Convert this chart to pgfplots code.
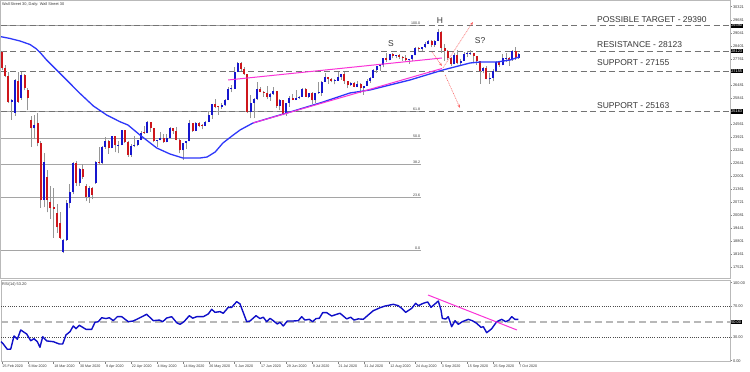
\documentclass[border=0pt]{standalone}
\usepackage{fontspec}
\setmainfont{Liberation Sans}
\usepackage{pgfplots}
\usepackage{pgfplotstable}
\pgfplotsset{compat=1.18}
\usetikzlibrary{arrows.meta}

\definecolor{upc}{RGB}{22,22,205}
\definecolor{dnc}{RGB}{205,22,28}
\definecolor{wickc}{RGB}{150,150,150}
\definecolor{mac}{RGB}{45,55,250}
\definecolor{rsic}{RGB}{15,15,200}
\definecolor{pinkc}{RGB}{250,50,215}
\definecolor{arrc}{RGB}{250,95,95}
\definecolor{framec}{RGB}{185,185,185}
\definecolor{dashc}{RGB}{115,115,115}
\definecolor{fibc}{RGB}{165,165,165}
\definecolor{txtc}{RGB}{55,55,55}

\newcommand\tf{\fontsize{3.9}{4.2}\selectfont}
\newcommand\ff{\fontsize{3.6}{4}\selectfont}
\newcommand\bigf{\fontsize{8.5}{10}\selectfont}

\pgfplotsset{candle/.style={forget plot, only marks, mark=*, mark size=0pt,
  mark options={draw=none, fill=none},
  error bars/.cd, y dir=plus, y explicit, error mark=none}}

\pgfplotstableread{
i O H L C
0 28080 28150 27200 27300
1 27300 27460 26860 26900
2 26900 27100 25600 25650
3 25630 25800 24750 25730
4 25100 26750 24950 26700
5 26650 27100 25600 25650
6 25830 27100 25750 26960
7 26960 27000 26200 26300
8 26220 26300 25230 25810
9 24740 24920 23430 24330
10 24330 25000 23800 24490
11 24600 25090 23450 23610
12 23610 23700 20420 20800
13 20800 23100 20450 22690
14 21940 22300 20200 20800
15 20700 21500 19900 20400
16 20450 21400 18950 20380
17 20170 20600 19200 19480
18 19700 20200 18900 18960
19 18250 18900 18200 18840
20 18840 20800 18800 20650
21 20650 21600 20400 21200
22 21200 22700 21100 22630
23 22630 22750 21500 21640
24 21640 22400 21500 22330
25 22330 22600 21850 21920
26 21500 21600 20750 20950
27 20950 21480 20680 21410
28 21410 21450 20850 21060
29 21630 22750 21600 22690
30 22690 23420 22550 22650
31 22650 23460 22600 23430
32 23430 23900 23330 23720
33 23720 23750 23080 23390
34 23390 23980 23350 23950
35 23950 23960 23170 23500
36 23500 23700 23120 23540
37 23540 24270 23500 24240
38 24240 24250 23630 23650
39 23650 23700 22940 23020
40 23020 23550 22950 23480
41 23480 23940 23410 23520
42 23520 23780 23460 23770
43 23770 24190 23750 24130
44 24130 24440 24080 24100
45 24100 24690 24090 24630
46 24630 24640 24170 24350
47 24350 24360 23640 23720
48 23720 23780 23430 23750
49 23750 24140 23740 23880
50 23880 24070 23620 23660
51 23660 24040 23650 23880
52 23880 24390 23870 24330
53 24330 24360 24060 24220
54 24220 24380 23750 23770
55 23770 23870 23100 23250
56 23250 23630 22790 23620
57 23620 23700 23330 23690
58 23690 24770 23690 24600
59 24600 24610 24170 24210
60 24210 24650 24200 24580
61 24580 24650 24380 24470
62 24470 24530 24290 24460
63 24460 24700 24450 24650
64 24650 25200 24640 25000
65 25000 25550 24810 25540
66 25540 25760 25320 25400
67 25400 25450 25000 25380
68 25380 25580 25300 25470
69 25470 25770 25450 25740
70 25740 26370 25730 26270
71 26270 26450 26120 26280
72 26280 27340 26270 27110
73 27110 27580 27100 27570
74 27570 27580 27150 27270
75 27270 27360 26980 26990
76 26990 27000 25080 25130
77 25130 25990 24840 25600
78 25600 25850 24840 25760
79 25760 26610 25750 26290
80 26290 26380 26100 26120
81 26120 26150 25890 26080
82 26080 26430 25760 25870
83 25870 26070 25690 26020
84 26020 26380 26000 26160
85 26160 26170 25340 25450
86 25450 25760 25230 25740
87 25740 25750 24970 25020
88 25020 25600 24950 25590
89 25590 25910 25410 25810
90 25810 26020 25730 25740
91 25740 26210 25730 25830
92 25830 25950 25800 25900
93 25900 26330 25890 26290
94 26290 26300 25880 25890
95 25890 26090 25820 26070
96 26070 26110 25510 25710
97 25710 26080 25600 26080
98 26080 26630 26050 26090
99 26090 26650 25930 26640
100 26640 27070 26630 26870
101 26870 26880 26520 26740
102 26740 26800 26600 26670
103 26670 26740 26500 26680
104 26680 27130 26670 26840
105 26840 27010 26720 27000
106 27000 27130 26530 26650
107 26650 26660 26320 26470
108 26470 26620 26440 26580
109 26580 26610 26360 26380
110 26380 26650 26370 26540
111 26540 26550 26070 26310
112 26310 26430 26000 26430
113 26430 26740 26420 26670
114 26670 26840 26570 26830
115 26830 27270 26820 27200
116 27200 27390 27070 27390
117 27390 27460 27150 27430
118 27430 27800 27340 27790
119 27790 28040 27620 27690
120 27690 27990 27680 27980
121 27980 28040 27780 27900
122 27900 27960 27790 27930
123 27930 27990 27760 27850
124 27850 27880 27670 27780
125 27780 27940 27650 27690
126 27690 27770 27510 27740
127 27740 27960 27640 27930
128 27930 28340 27920 28310
129 28310 28360 28080 28250
130 28250 28350 28160 28330
131 28330 28580 28300 28490
132 28490 28680 28480 28650
133 28650 28660 28330 28430
134 28430 28660 28340 28640
135 28640 29200 28630 29100
136 29100 29110 28060 28290
137 28290 28500 27660 28130
138 28130 28200 27700 27800
139 27800 27860 27380 27500
140 27500 28030 27490 27940
141 27940 28200 27480 27530
142 27530 27770 27410 27660
143 27660 28090 27650 27990
144 27990 28160 27860 28000
145 28000 28210 27950 28030
146 28030 28060 27590 27900
147 27900 27910 27470 27660
148 27660 27670 26540 27150
149 27150 27350 27040 27290
150 27290 27390 26740 26760
151 26760 27040 26540 26820
152 26820 27240 26650 27170
153 27170 27630 27160 27580
154 27580 27590 27370 27450
155 27450 28000 27440 27780
156 27780 28050 27620 27820
157 27820 27830 27410 27680
158 27680 28170 27670 28150
159 28150 28360 27720 27780
160 27780 28020 27770 28000
}\ohlc

\begin{document}
\begin{tikzpicture}
\fill[white] (0pt,0pt) rectangle (750pt,372pt);
\path[use as bounding box] (0pt,0pt) rectangle (750pt,372pt);

%================ MAIN PRICE PANEL =================
\begin{axis}[
  at={(1pt,93pt)}, anchor=south west, scale only axis,
  width=729pt, height=278.5pt,
  xmin=-0.31, xmax=225.39, ymin=16924, ymax=30626,
  clip=false,
  axis line style={draw=framec, line width=1pt},
  xtick=\empty,
  ytick={17521,18161,18801,19441,20081,20721,21361,22001,22641,23281,23921,24561,25841,26481,27761,28401,29041,29681,30321},
  ytick pos=right, yticklabel pos=right,
  tick align=outside, major tick length=2pt,
  tick style={draw=gray, line width=0.4pt},
  yticklabel style={font=\tf, text=txtc, inner sep=0.8pt},
  scaled y ticks=false,
  /pgf/number format/1000 sep={},
  /pgf/number format/assume math mode=true,
]
% Fibonacci levels
\addplot[fibc, line width=0.9pt, forget plot] coordinates {(-0.31,18316) (129.7,18316)};
\addplot[fibc, line width=0.9pt, forget plot] coordinates {(-0.31,20929) (129.7,20929)};
\addplot[fibc, line width=0.9pt, forget plot] coordinates {(-0.31,22546) (129.7,22546)};
\addplot[fibc, line width=0.9pt, forget plot] coordinates {(-0.31,23853) (129.7,23853)};
\addplot[fibc, line width=0.9pt, forget plot] coordinates {(-0.31,25160) (129.7,25160)};
\addplot[fibc, line width=0.9pt, forget plot] coordinates {(-0.31,29390) (129.7,29390)};
\node[anchor=south east, font=\ff, text=txtc, inner sep=0.6pt] at (axis cs:129.7,29390) {100.0};
\node[anchor=south east, font=\ff, text=txtc, inner sep=0.6pt] at (axis cs:129.7,25160) {61.8};
\node[anchor=south east, font=\ff, text=txtc, inner sep=0.6pt] at (axis cs:129.7,23853) {50.0};
\node[anchor=south east, font=\ff, text=txtc, inner sep=0.6pt] at (axis cs:129.7,22546) {38.2};
\node[anchor=south east, font=\ff, text=txtc, inner sep=0.6pt] at (axis cs:129.7,20929) {23.6};
\node[anchor=south east, font=\ff, text=txtc, inner sep=0.6pt] at (axis cs:129.7,18316) {0.0};

% support / resistance dashed lines
\addplot[dashc, line width=0.8pt, dash pattern=on 6pt off 3.5pt, forget plot] coordinates {(-0.31,29390) (225.39,29390)};
\addplot[dashc, line width=0.8pt, dash pattern=on 6pt off 3.5pt, forget plot] coordinates {(-0.31,28123) (225.39,28123)};
\addplot[dashc, line width=0.8pt, dash pattern=on 6pt off 3.5pt, forget plot] coordinates {(-0.31,27155) (225.39,27155)};
\addplot[dashc, line width=0.8pt, dash pattern=on 6pt off 3.5pt, forget plot] coordinates {(-0.31,25163) (225.39,25163)};

% candle wicks
\addplot[candle, error bar style={draw=wickc, line width=0.7pt}]
  table[x=i, y=L, y error expr=\thisrow{H}-\thisrow{L}] {\ohlc};
% bullish bodies
\addplot[candle, error bar style={draw=upc, line width=2pt},
  /pgfplots/restrict expr to domain={\thisrow{C}-\thisrow{O}}{0:100000}]
  table[x=i, y=O, y error expr={max(\thisrow{C}-\thisrow{O},35)}] {\ohlc};
% bearish bodies
\addplot[candle, error bar style={draw=dnc, line width=2pt},
  /pgfplots/restrict expr to domain={\thisrow{O}-\thisrow{C}}{0.5:100000}]
  table[x=i, y=C, y error expr={max(\thisrow{O}-\thisrow{C},35)}] {\ohlc};

% 50 period moving average
\addplot[mac, line width=1.3pt, line join=round, forget plot] coordinates {
(-0.31,28845) (2.48,28757) (5.57,28633) (8.67,28461) (10.7,28240) (12.2,27994)
(13.8,27699) (16.9,27207) (20.0,26715) (24.1,26060) (28.3,25435) (32.4,24993)
(36.5,24663) (39.0,24500) (42.7,24009) (47.9,23369) (52.0,23074) (56.0,22877)
(61.3,22877) (63.5,22926) (66.0,23172) (68.4,23615) (71.2,23960) (73.7,24255)
(77.7,24599) (83.9,24894) (89.2,25140) (99.4,25632) (107.7,26075) (113.9,26223)
(120.1,26469) (126.3,26715) (136.5,27207) (144.9,27551) (148.0,27600) (153.3,27600)
(157.3,27699) (160.1,27846)};

% trend lines
\addplot[pinkc, line width=1pt, forget plot] coordinates {(70.0,26715) (136.2,27797)};
\addplot[pinkc, line width=1pt, forget plot] coordinates {(77.7,24599) (136.2,27280)};

% arrows
\addplot[arrc, line width=0.5pt, dash pattern=on 1pt off 0.8pt, -{Stealth[length=3.5pt,width=2.6pt]}, forget plot]
  coordinates {(133.1,28092) (136.2,27403)};
\addplot[arrc, line width=0.5pt, dash pattern=on 1pt off 0.8pt, -{Stealth[length=3.5pt,width=2.6pt]}, forget plot]
  coordinates {(136.5,27305) (145.8,29568)};
\addplot[arrc, line width=0.5pt, dash pattern=on 1pt off 0.8pt, -{Stealth[length=3.5pt,width=2.6pt]}, forget plot]
  coordinates {(137.2,26961) (141.8,25337)};

% pattern labels
\node[font=\bigf, text=txtc] at (axis cs:120.4,28486) {S};
\node[font=\bigf, text=txtc] at (axis cs:135.6,29617) {H};
\node[font=\bigf, text=txtc] at (axis cs:148.0,28634) {S?};

% level labels
\node[anchor=west, font=\bigf, text=txtc, inner sep=0pt] at (axis cs:184.2,29667) {POSSIBLE TARGET - 29390};
\node[anchor=west, font=\bigf, text=txtc, inner sep=0pt] at (axis cs:184.2,28437) {RESISTANCE - 28123};
\node[anchor=west, font=\bigf, text=txtc, inner sep=0pt] at (axis cs:184.2,27551) {SUPPORT - 27155};
\node[anchor=west, font=\bigf, text=txtc, inner sep=0pt] at (axis cs:184.2,25436) {SUPPORT - 25163};

% highlighted price boxes
\node[anchor=west, fill=black, text=white, font=\tf, inner sep=0.7pt, xshift=0.4pt] at (axis cs:225.39,29390) {29390};
\node[anchor=west, fill=black, text=white, font=\tf, inner sep=0.7pt, xshift=0.4pt] at (axis cs:225.39,28123) {28123};
\node[anchor=west, fill=black, text=white, font=\tf, inner sep=0.7pt, xshift=0.4pt] at (axis cs:225.39,27155) {27155};
\node[anchor=west, fill=black, text=white, font=\tf, inner sep=0.7pt, xshift=0.4pt] at (axis cs:225.39,25163) {25163};
\end{axis}

%================ RSI PANEL =================
\begin{axis}[
  at={(1pt,10pt)}, anchor=south west, scale only axis,
  width=729pt, height=81.5pt,
  xmin=-0.31, xmax=225.39, ymin=-1.67, ymax=102.8,
  clip=false,
  axis line style={draw=framec, line width=1pt},
  xtick={0,8,16,24,32,40,48,56,64,72,80,88,96,104,112,120,128,136,144,152,160},
  xticklabels={25 Feb 2020,6 Mar 2020,18 Mar 2020,30 Mar 2020,9 Apr 2020,22 Apr 2020,4 May 2020,14 May 2020,26 May 2020,5 Jun 2020,17 Jun 2020,29 Jun 2020,9 Jul 2020,21 Jul 2020,31 Jul 2020,12 Aug 2020,24 Aug 2020,3 Sep 2020,15 Sep 2020,25 Sep 2020,7 Oct 2020},
  xtick pos=left,
  xticklabel style={anchor=north west, font=\ff, text=txtc, inner sep=0.5pt},
  ytick={0,30,70,100},
  yticklabels={0.00,30.00,70.00,100.00},
  ytick pos=right, yticklabel pos=right,
  yticklabel style={font=\tf, text=txtc, inner sep=0.8pt},
  tick align=outside, major tick length=2pt,
  tick style={draw=gray, line width=0.4pt},
]
\addplot[black!70, line width=0.5pt, dash pattern=on 0.8pt off 1.4pt, forget plot] coordinates {(-0.31,70) (225.39,70)};
\addplot[black!70, line width=0.5pt, dash pattern=on 0.8pt off 1.4pt, forget plot] coordinates {(-0.31,30) (225.39,30)};
\addplot[black!28, line width=1.8pt, dash pattern=on 7pt off 4pt, forget plot] coordinates {(-0.31,50) (225.39,50)};

\addplot[rsic, line width=1.4pt, line join=round, forget plot] coordinates {
(-0.31,24.4) (0.40,21.4) (1.64,14.6) (2.69,14.8) (3.72,31.7) (4.74,27.4) (5.79,39.4) (7.65,34.2) (8.89,25.6) (9.91,28.2)
(10.93,24.4) (11.76,17.2) (12.60,30.8) (13.84,25.3) (15.88,24.4) (17.74,21.4) (18.79,21.4) (19.81,33.0) (21.05,37.2) (22.07,44.5)
(22.91,41.0) (23.93,45.4) (26.01,40.2) (27.77,40.2) (28.79,49.2) (29.81,50.0) (30.87,55.1) (32.20,54.0) (33.22,55.1) (34.46,51.3)
(35.70,56.4) (37.06,56.4) (39.10,50.0) (40.65,50.9) (42.72,55.1) (44.80,59.5) (46.84,51.3) (48.70,52.1) (49.75,50.0) (50.99,54.7)
(52.54,56.4) (54.09,48.7) (55.11,46.6) (56.35,50.0) (57.99,57.7) (59.04,54.5) (60.28,56.4) (62.32,56.4) (63.87,59.9) (64.92,65.9)
(65.94,62.0) (67.49,62.9) (68.51,60.8) (70.06,68.4) (71.11,68.4) (72.66,75.7) (73.68,72.8) (74.71,61.6) (75.76,50.0) (76.78,50.9)
(78.64,57.7) (79.88,54.0) (80.90,55.7) (81.95,50.0) (82.97,54.3) (83.99,51.3) (85.23,47.1) (86.07,49.2) (87.09,44.5) (88.33,50.9)
(90.19,50.9) (91.73,51.3) (92.79,56.4) (93.81,52.1) (95.14,53.0) (96.19,50.0) (97.21,54.0) (98.24,54.3) (99.29,61.6) (100.53,61.6)
(102.07,57.3) (103.62,59.5) (104.64,60.8) (106.72,53.6) (107.96,55.7) (108.98,52.1) (110.31,53.6) (111.86,53.1) (113.41,58.7) (114.95,64.1)
(115.48,65.0) (117.03,67.9) (118.58,70.1) (119.60,70.9) (121.15,72.3) (122.69,70.5) (123.75,67.1) (124.98,62.0) (126.84,67.1) (128.08,73.6)
(128.89,70.5) (130.43,73.6) (131.80,75.3) (132.82,68.4) (134.06,72.8) (135.08,76.5) (135.91,65.0) (136.32,54.3) (137.37,53.4) (138.17,56.4)
(139.23,43.6) (140.25,51.3) (141.27,46.6) (142.51,50.0) (144.36,53.0) (145.60,51.3) (146.97,47.9) (148.30,42.7) (149.01,43.6) (150.06,35.9)
(151.61,41.0) (153.16,50.0) (154.71,53.0) (155.94,50.0) (156.97,52.1) (157.80,56.4) (158.82,53.0) (159.85,53.0)};

\addplot[pinkc, line width=1pt, forget plot] coordinates {(131.9,84.2) (159.4,39.4)};

\node[anchor=west, fill=black, text=white, font=\tf, inner sep=0.7pt, xshift=0.4pt] at (axis cs:225.39,50) {50.00};
\end{axis}

% panel captions
\node[anchor=west, font=\tf, text=txtc, inner sep=0pt] at (2pt,368pt) {Wall Street 30, Daily: Wall Street 30};
\node[anchor=west, font=\tf, text=txtc, inner sep=0pt] at (2pt,88pt) {RSI(14) 53.20};
\end{tikzpicture}
\end{document}
